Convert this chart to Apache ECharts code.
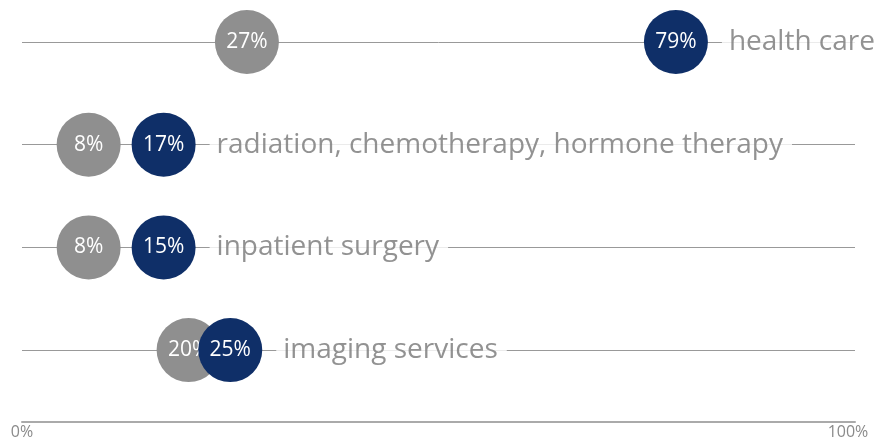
<!DOCTYPE html>
<html>
<head>
<meta charset="utf-8">
<script src="https://cdn.jsdelivr.net/npm/echarts@6/dist/echarts.min.js"></script>
<style>
html, body { margin: 0; padding: 0; background: #fff; }
#chart { width: 874px; height: 445px; }
</style>
</head>
<body>
<div id="chart"></div>
<script>
// rows, top to bottom
var categories = ['health care', 'radiation, chemotherapy, hormone therapy', 'inpatient surgery', 'imaging services'];
// positions (the 15% dot sits where the 17% one does)
var greyValues = [27, 8, 8, 20];
var navyValues = [78.5, 17, 17, 25];
var greyLabels = ['27%', '8%', '8%', '20%'];
var navyLabels = ['79%', '17%', '15%', '25%'];

var FONT = 'Open Sans';
var rowOf = function(i){ return categories.length - 1 - i; };

var greyData = [], navyData = [], nameData = [], rowLines = [];
categories.forEach(function(c, i){
    greyData.push({value: [greyValues[i], rowOf(i)], label: {formatter: greyLabels[i]}});
    navyData.push({value: [navyValues[i], rowOf(i)], label: {formatter: navyLabels[i]}});
    nameData.push({value: [navyValues[i], rowOf(i)], name: c});
    rowLines.push({yAxis: rowOf(i)});
});

var myChart = echarts.init(document.getElementById('chart'));
var option = {
    animation: false,
    grid: {left: 22, right: 19, top: 42, bottom: 23, outerBoundsMode: 'none', containLabel: false},
    xAxis: {
        type: 'value',
        min: 0,
        max: 100,
        interval: 100,
        axisLine: {show: true, onZero: false, lineStyle: {color: '#aaaaaa', width: 2}},
        axisTick: {show: false},
        splitLine: {show: false},
        axisLabel: {
            formatter: function(v){
                return v === 100 ? '{r|100%}' : v + '%';
            },
            color: '#8a8a8a',
            fontFamily: FONT,
            fontSize: 16,
            margin: 2,
            alignMaxLabel: 'center',
            rich: {
                r: {color: '#8a8a8a', fontFamily: FONT, fontSize: 16, padding: [0, 14, 0, 0]}
            }
        }
    },
    yAxis: {
        type: 'value',
        min: -0.7,
        max: 3,
        show: false
    },
    series: [
        {
            type: 'scatter',
            z: 1,
            data: [],
            markLine: {
                z: 1,
                silent: true,
                symbol: 'none',
                label: {show: false},
                lineStyle: {color: '#999999', width: 1, type: 'solid'},
                data: rowLines
            }
        },
        {
            type: 'scatter',
            z: 2,
            symbolSize: 64,
            itemStyle: {color: '#8f8f8f', opacity: 1},
            label: {show: true, position: 'inside', color: '#fff', fontFamily: FONT, fontSize: 21},
            data: greyData
        },
        {
            type: 'scatter',
            z: 3,
            symbolSize: 64,
            itemStyle: {color: '#0f2f68', opacity: 1},
            label: {show: true, position: 'inside', color: '#fff', fontFamily: FONT, fontSize: 21},
            data: navyData
        },
        {
            type: 'scatter',
            z: 4,
            symbolSize: 64,
            itemStyle: {color: 'rgba(0,0,0,0)'},
            label: {
                show: true,
                position: 'right',
                distance: 14,
                formatter: '{b}',
                color: '#777777',
                fontFamily: FONT,
                fontSize: 28,
                backgroundColor: '#fff',
                padding: [2, 9, 2, 7]
            },
            data: nameData
        }
    ]
};
myChart.setOption(option);
</script>
</body>
</html>
